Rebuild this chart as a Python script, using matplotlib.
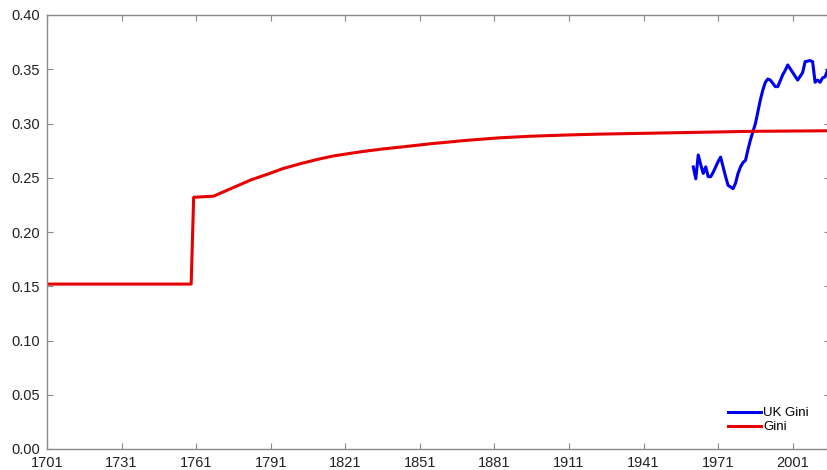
import matplotlib
matplotlib.use("Agg")
import matplotlib.pyplot as plt

plt.rcParams['font.family'] = ['Liberation Sans', 'DejaVu Sans']

# UK Gini (blue)
uk_years = [1961, 1962, 1963, 1964, 1965, 1966, 1967, 1968, 1969, 1971, 1972,
            1973, 1974, 1975, 1977, 1978, 1979, 1980, 1981, 1982, 1983, 1984,
            1986, 1988, 1989, 1990, 1991, 1992, 1994, 1995, 1997, 1998, 1999,
            2001, 2003, 2005, 2006, 2008, 2009, 2010, 2011, 2012, 2013, 2014, 2015]
uk_gini = [0.260, 0.249, 0.271, 0.262, 0.254, 0.260, 0.251, 0.251, 0.255, 0.265, 0.269,
           0.260, 0.251, 0.243, 0.240, 0.245, 0.254, 0.260, 0.264, 0.266, 0.276, 0.285,
           0.300, 0.322, 0.331, 0.338, 0.341, 0.340, 0.334, 0.334, 0.345, 0.349, 0.354,
           0.347, 0.340, 0.347, 0.357, 0.358, 0.357, 0.338, 0.340, 0.338, 0.342, 0.343, 0.349]

# Model Gini (red)
gini_years = [1701, 1759, 1760, 1768, 1776, 1783, 1790, 1796, 1803, 1810, 1816,
              1823, 1830, 1836, 1843, 1856, 1870, 1883, 1896, 1910, 1923, 1954,
              1985, 2016]
gini = [0.152, 0.152, 0.232, 0.233, 0.241, 0.248, 0.2535, 0.2585, 0.263, 0.267, 0.270,
        0.2725, 0.2748, 0.2765, 0.2782, 0.2815, 0.2845, 0.2868, 0.2883, 0.2894, 0.2902, 0.2915,
        0.2928, 0.2933]

xticks = list(range(1701, 2002, 30))
yticks = [0.00, 0.05, 0.10, 0.15, 0.20, 0.25, 0.30, 0.35, 0.40]

fig = plt.figure(figsize=(8.28, 4.70), dpi=100)
ax = fig.add_axes([47 / 828, 21 / 470, 783 / 828, 434 / 470])

ax.plot(uk_years, uk_gini, color='#0000f0', lw=2.2, label='UK Gini')
ax.plot(gini_years, gini, color='#e60000', lw=2.2, label='Gini')

ax.set_xlim(1701, 2016)
ax.set_ylim(0, 0.40)
ax.set_xticks(xticks)
ax.set_yticks(yticks)
ax.set_yticklabels(['%.2f' % v for v in yticks])

for s in ax.spines.values():
    s.set_color('#8a8a8a')
    s.set_linewidth(1.0)
ax.tick_params(direction='in', length=4, width=0.8, color='#8a8a8a',
               top=True, right=True, labelsize=10.5, labelcolor='#222222')
ax.tick_params(axis='x', pad=5)
ax.tick_params(axis='y', pad=5)

leg = ax.legend(loc='lower right', bbox_to_anchor=(0.985, 0.015), frameon=False,
                fontsize=9.5, handlelength=2.5, handletextpad=0.2,
                labelspacing=0.12, borderpad=0.2)

fig.savefig('out.png', dpi=100)
